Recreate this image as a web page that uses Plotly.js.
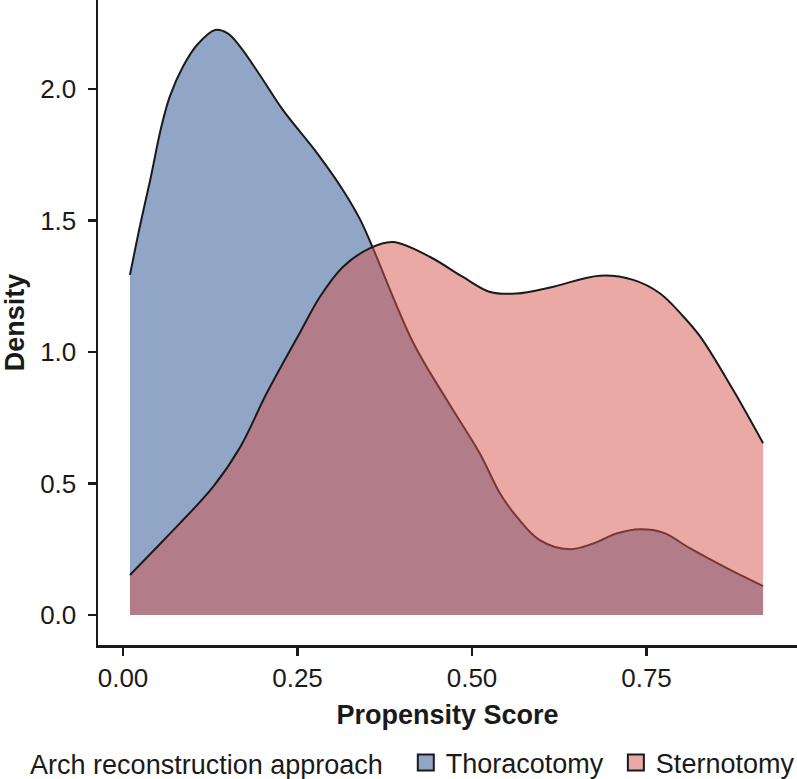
<!DOCTYPE html>
<html>
<head>
<meta charset="utf-8">
<script src="https://cdn.plot.ly/plotly-3.0.1.min.js"></script>
<style>html,body{margin:0;padding:0;background:#fff;}#chart{width:797px;height:779px;}</style>
</head>
<body>
<div id="chart"></div>
<script>
// Thoracotomy density curve
var thoracX = [0.010, 0.024, 0.039, 0.055, 0.067, 0.086, 0.106, 0.132, 0.150, 0.168, 0.196, 0.229, 0.278, 0.315, 0.340, 0.358, 0.416, 0.464, 0.511, 0.540, 0.564, 0.597, 0.640, 0.674, 0.707, 0.741, 0.774, 0.812, 0.865, 0.917];
var thoracY = [1.293, 1.475, 1.654, 1.857, 1.971, 2.085, 2.167, 2.224, 2.211, 2.160, 2.053, 1.920, 1.756, 1.616, 1.502, 1.395, 1.034, 0.817, 0.615, 0.463, 0.374, 0.285, 0.250, 0.272, 0.310, 0.326, 0.313, 0.254, 0.178, 0.110];
// Sternotomy density curve
var sternX = [0.010, 0.046, 0.082, 0.129, 0.168, 0.206, 0.254, 0.282, 0.315, 0.354, 0.387, 0.440, 0.487, 0.526, 0.564, 0.612, 0.683, 0.731, 0.769, 0.803, 0.827, 0.874, 0.917];
var sternY = [0.152, 0.251, 0.350, 0.487, 0.639, 0.844, 1.076, 1.209, 1.323, 1.395, 1.418, 1.361, 1.285, 1.228, 1.222, 1.245, 1.290, 1.274, 1.223, 1.134, 1.058, 0.856, 0.653];

var seriesNames = ['Thoracotomy', 'Sternotomy'];
var legendTitle = 'Arch reconstruction approach';
var xTickVals = [0, 0.25, 0.5, 0.75];
var xTickText = ['0.00', '0.25', '0.50', '0.75'];
var yTickVals = [0, 0.5, 1, 1.5, 2];
var yTickText = ['0.0', '0.5', '1.0', '1.5', '2.0'];

var ink = '#1a1a1a';
var FONT = 'Liberation Sans, Arial, Helvetica, sans-serif';
var NB = '\u00a0';

var traces = [
  {x: thoracX, y: thoracY, type: 'scatter', mode: 'lines', fill: 'tozeroy',
   fillcolor: 'rgba(35,75,141,0.5)', line: {color: ink, width: 2, shape: 'spline', smoothing: 1},
   showlegend: false, hoverinfo: 'skip'},
  {x: sternX, y: sternY, type: 'scatter', mode: 'lines', fill: 'tozeroy',
   fillcolor: 'rgba(213,83,75,0.5)', line: {color: ink, width: 2, shape: 'spline', smoothing: 1},
   showlegend: false, hoverinfo: 'skip'},
  {x: [null], y: [null], type: 'scatter', mode: 'markers', name: seriesNames[0] + NB,
   marker: {symbol: 'square', size: 16, color: '#91a5c6', line: {color: ink, width: 2}}},
  {x: [null], y: [null], type: 'scatter', mode: 'markers', name: seriesNames[1],
   marker: {symbol: 'square', size: 16, color: '#eaa9a5', line: {color: ink, width: 2}}}
];

var axisCommon = {
  showline: true, linecolor: ink, linewidth: 2.5,
  ticks: 'outside', ticklen: 8, tickwidth: 2.5, tickcolor: ink,
  showgrid: false, zeroline: false,
  tickfont: {family: FONT, size: 26, color: ink}
};

var layout = {
  width: 797, height: 779,
  margin: {l: 98, r: 0, t: 0, b: 134, autoexpand: false},
  paper_bgcolor: '#ffffff', plot_bgcolor: '#ffffff',
  font: {family: FONT, color: ink},
  xaxis: Object.assign({}, axisCommon, {
    range: [-0.0358, 0.9656], tickvals: xTickVals, ticktext: xTickText,
    ticklabelstandoff: 0,
    title: {text: 'Propensity Score', font: {family: FONT, size: 27, color: ink, weight: 'bold'}, standoff: 14}
  }),
  yaxis: Object.assign({}, axisCommon, {
    range: [-0.114, 2.338], tickvals: yTickVals, ticktext: yTickText,
    ticklabelstandoff: 6,
    title: {text: 'Density', font: {family: FONT, size: 27, color: ink, weight: 'bold'}, standoff: 10}
  }),
  showlegend: true,
  legend: {
    orientation: 'h', x: -0.1, xanchor: 'left', y: -0.183, yanchor: 'middle',
    font: {family: FONT, size: 27, color: ink},
    title: {text: legendTitle + NB + NB, side: 'left', font: {family: FONT, size: 27, color: ink}},
    itemsizing: 'trimmed', bgcolor: 'rgba(0,0,0,0)'
  },
  hovermode: false
};

Plotly.newPlot('chart', traces, layout, {staticPlot: true, displayModeBar: false});
</script>
</body>
</html>
